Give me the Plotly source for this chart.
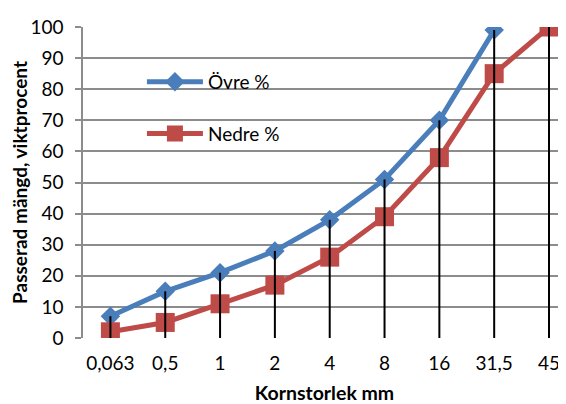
import plotly.graph_objects as go

categories = ["0,063", "0,5", "1", "2", "4", "8", "16", "31,5", "45"]
ovre = [7, 15, 21, 28, 38, 51, 70, 99, None]
nedre = [2, 5, 11, 17, 26, 39, 58, 85, 100]
y_ticks = list(range(0, 101, 10))

BLUE = "#4A7EBB"
RED = "#BE4B48"
FONT = "Lato"

# drop lines: from highest point of each category down to 0
drop_x, drop_y = [], []
for c, a, b in zip(categories, ovre, nedre):
    vals = [v for v in (a, b) if v is not None]
    top = max(vals)
    drop_x += [c, c, None]
    drop_y += [0, top, None]

fig = go.Figure()
fig.add_trace(go.Scatter(
    x=categories, y=ovre, name="Övre %", mode="lines+markers",
    line=dict(color=BLUE, width=5),
    marker=dict(symbol="diamond", size=15, color=BLUE),
    legendgroup="a", connectgaps=False,
))
fig.add_trace(go.Scatter(
    x=categories, y=nedre, name="Nedre %", mode="lines+markers",
    line=dict(color=RED, width=5),
    marker=dict(symbol="square", size=19, color=RED),
    legendgroup="b",
))
fig.add_trace(go.Scatter(
    x=drop_x, y=drop_y, mode="lines", showlegend=False,
    line=dict(color="black", width=2), hoverinfo="skip",
))

# page body has an 8px margin, so the figure is sized to fill the rest of the window
fig.update_layout(
    width=558, height=396,
    margin=dict(l=75, r=0, t=19, b=66, autoexpand=False),
    paper_bgcolor="white", plot_bgcolor="white",
    font=dict(family=FONT, size=19, color="black"),
    legend=dict(
        x=0.122, y=0.74, xanchor="left", yanchor="middle",
        bgcolor="rgba(0,0,0,0)", tracegroupgap=24,
        traceorder="grouped", itemwidth=56,
        font=dict(size=19, family=FONT),
    ),
    showlegend=True,
)
fig.update_xaxes(
    type="category", categoryorder="array", categoryarray=categories,
    range=[-0.5, 8.31], showgrid=False, showline=False, zeroline=False,
    ticks="", ticklabelstandoff=12, automargin=False,
    title=dict(text="<b>Kornstorlek mm</b>", font=dict(size=19.5, family=FONT), standoff=18),
)
fig.update_yaxes(
    range=[0, 100], tickvals=y_ticks, showgrid=True, gridcolor="#8C8C8C", gridwidth=1.5,
    showline=True, linecolor="#8C8C8C", linewidth=1.5, zeroline=False,
    ticks="outside", ticklen=6, tickcolor="#8C8C8C", tickwidth=1.5,
    ticklabelstandoff=8, automargin=False,
    title=dict(text="<b>Passerad mängd, viktprocent</b>", font=dict(size=19, family=FONT), standoff=0),
)
fig.write_html("out.html")
